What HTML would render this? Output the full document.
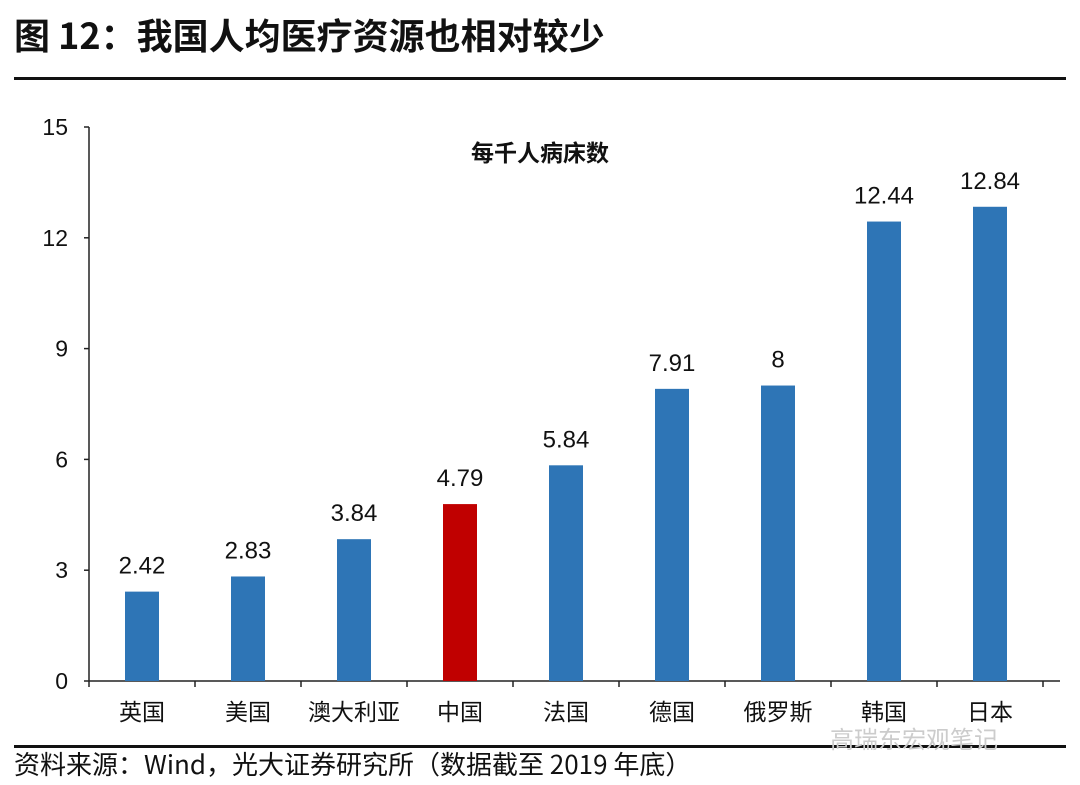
<!DOCTYPE html>
<html><head><meta charset="utf-8"><style>
body{margin:0;width:1080px;height:785px;background:#fff;overflow:hidden;font-family:"Liberation Sans","Noto Sans CJK SC",sans-serif;}
#title{position:absolute;left:14px;top:12px;font-size:36px;font-weight:bold;color:#111;font-family:"Noto Sans CJK SC",sans-serif;line-height:44px;}
#src{position:absolute;left:14px;top:747px;font-size:26px;color:#111;font-family:"Noto Sans CJK SC",sans-serif;line-height:34px;}
#wm{position:absolute;left:830px;top:720px;font-size:24px;color:#ccc;}
.hl{position:absolute;left:14px;width:1052px;height:3px;background:#111;}
</style></head><body>
<div id="title">图 12：我国人均医疗资源也相对较少</div>
<div class="hl" style="top:77px"></div>
<div class="hl" style="top:745px"></div>
<div id="src">资料来源：Wind，光大证券研究所（数据截至 2019 年底）</div>
<div id="wm">高瑞东宏观笔记</div>
<svg id="chart" width="1080" height="785" style="position:absolute;left:0;top:0"></svg>
<script>
const categories=["英国","美国","澳大利亚","中国","法国","德国","俄罗斯","韩国","日本"];
const values=[2.42,2.83,3.84,4.79,5.84,7.91,8,12.44,12.84];
const valueLabels=["2.42","2.83","3.84","4.79","5.84","7.91","8","12.44","12.84"];
const yTicks=[0,3,6,9,12,15];
const highlight="中国";
const svg=document.getElementById('chart');const NS='http://www.w3.org/2000/svg';
const x0=89,xEnd=1060,yb=681,yt=127,ymax=15,step=106;
const y=v=>yb-(v/ymax)*(yb-yt);
const xc=i=>x0+step*(i+0.5);
function mk(t,a){const e=document.createElementNS(NS,t);for(const k in a)e.setAttribute(k,a[k]);svg.appendChild(e);return e;}
let e=mk('line',{x1:x0,y1:yt,x2:x0,y2:yb,stroke:'#222','stroke-width':1.5});


e=mk('line',{x1:x0,y1:yb,x2:xEnd,y2:yb,stroke:'#222','stroke-width':1.5});


yTicks.forEach(t=>{
 const tk=mk('line',{x1:x0-5,y1:y(t),x2:x0,y2:y(t),stroke:'#222','stroke-width':1.5});
 
 
 const l=mk('text',{x:x0-21,y:y(t)+8,'text-anchor':'end','font-size':23,fill:'#111'});l.textContent=t;
 
 
});
for(let i=0;i<=categories.length;i++){
 const tk=mk('line',{x1:x0+step*i,y1:yb,x2:x0+step*i,y2:yb+6,stroke:'#222','stroke-width':1.5});
 
 
}
const t=mk('text',{x:540,y:161,'text-anchor':'middle','font-size':23,'font-weight':'bold',fill:'#111'});t.textContent='每千人病床数';


categories.forEach((c,i)=>{
 const b=mk('rect',{x:xc(i)-17,y:y(values[i]),width:34,height:yb-y(values[i]),fill:c===highlight?'#c00000':'#2e75b6'});
 
 
 const v=mk('text',{x:xc(i),y:y(values[i])-18,'text-anchor':'middle','font-size':24,fill:'#111'});v.textContent=valueLabels[i];
 
 
 const l=mk('text',{x:xc(i),y:720,'text-anchor':'middle','font-size':23,fill:'#111'});l.textContent=c;
 
 
});
</script>
</body></html>
